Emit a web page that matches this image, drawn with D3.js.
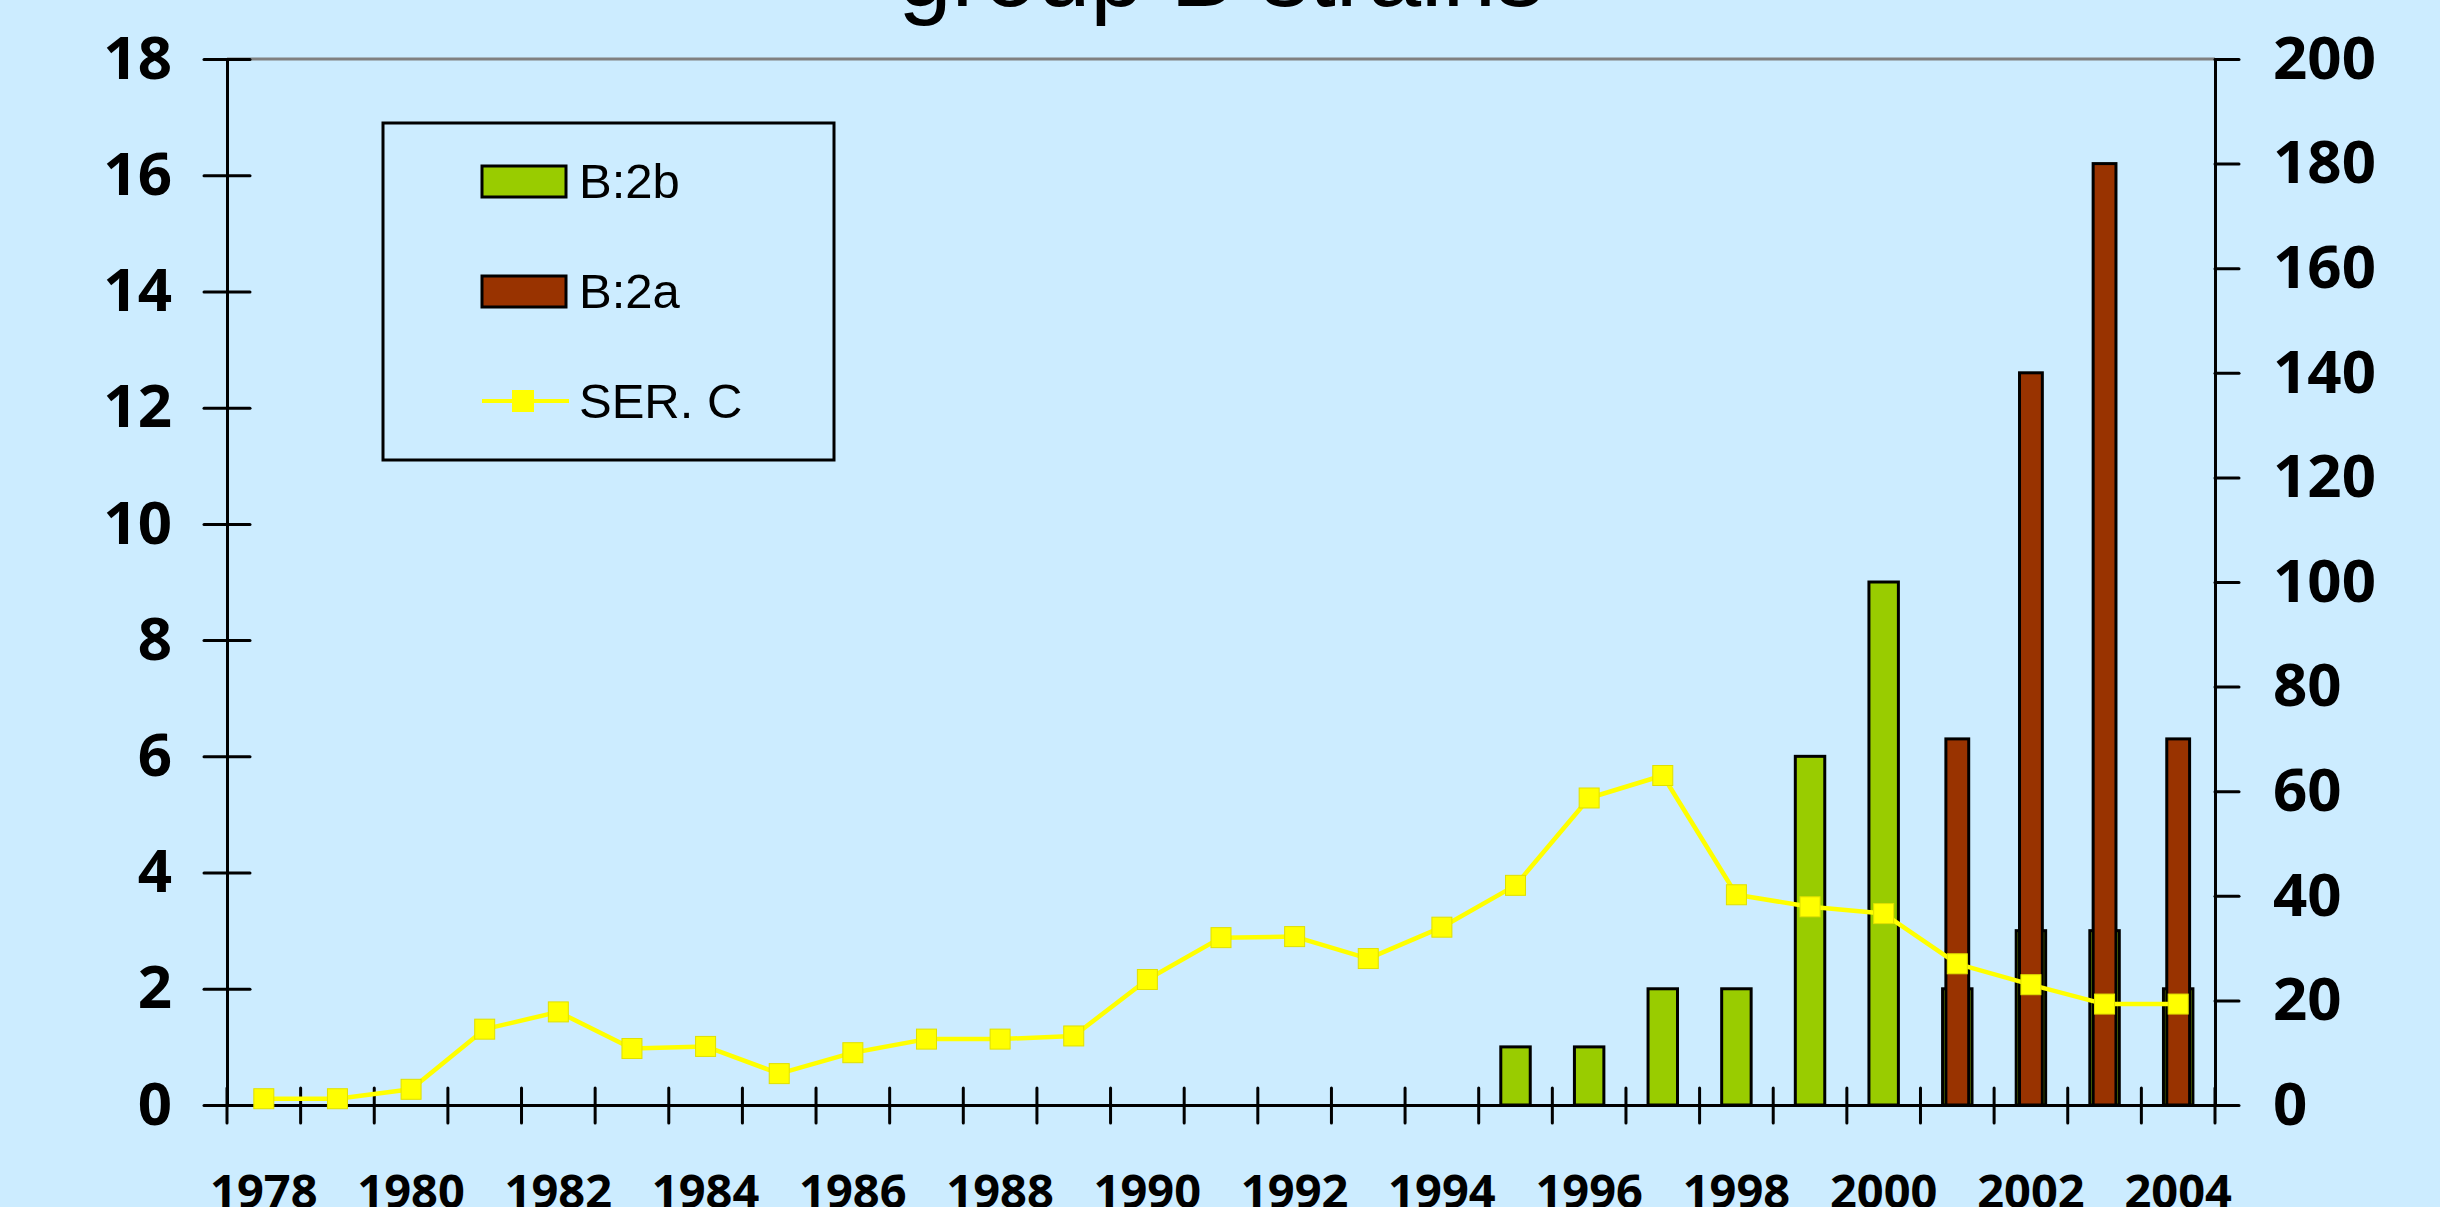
<!DOCTYPE html>
<html>
<head>
<meta charset="utf-8">
<script src="https://cdn.jsdelivr.net/npm/d3@7"></script>
<style>
    html, body { margin: 0; padding: 0; background: #CCECFF; overflow: hidden; }
</style>
</head>
<body>
<script>
// data
const years = [1978, 1979, 1980, 1981, 1982, 1983, 1984, 1985, 1986, 1987, 1988, 1989, 1990, 1991,
    1992, 1993, 1994, 1995, 1996, 1997, 1998, 1999, 2000, 2001, 2002, 2003, 2004];
// B:2b on the left axis
const b2b = [0, 0, 0, 0, 0, 0, 0, 0, 0, 0, 0, 0, 0, 0,
    0, 0, 0, 1, 1, 2, 2, 6, 9, 2, 3, 3, 2];
// B:2a on the right axis
const b2a = [0, 0, 0, 0, 0, 0, 0, 0, 0, 0, 0, 0, 0, 0,
    0, 0, 0, 0, 0, 0, 0, 0, 0, 70, 140, 180, 70];
// SER. C on the right axis
const serC = [1.2, 1.2, 3, 14.5, 17.8, 10.8, 11.2, 6, 10, 12.6, 12.6, 13.2, 24, 32,
    32.2, 28, 34, 42, 58.7, 63, 40.2, 37.9, 36.6, 27, 23, 19.3, 19.3];
const leftTicks = [0, 2, 4, 6, 8, 10, 12, 14, 16, 18];
const rightTicks = [0, 20, 40, 60, 80, 100, 120, 140, 160, 180, 200];
const yearLabels = [1978, 1980, 1982, 1984, 1986, 1988, 1990, 1992, 1994, 1996, 1998, 2000, 2002, 2004];
const seriesNames = ["B:2b", "B:2a", "SER. C"];
const seriesColors = ["#99CC00", "#993300", "#FFFF00"];
const titleText = "group B strains";

class GroupChart {
    constructor(width = 2440, height = 1207) {
        this.total_width = width;
        this.total_height = height;
        this.plot = { left: 227, right: 2215, top: 59, bottom: 1105 };
        this.svg = null;
        this.x = d3.scaleBand().domain(years).range([this.plot.left, this.plot.right]).padding(0);
        this.y_left = d3.scaleLinear().domain([0, 18]).range([this.plot.bottom, this.plot.top]);
        this.y_right = d3.scaleLinear().domain([0, 200]).range([this.plot.bottom, this.plot.top]);
    }

    construct_svg() {
        this.svg = d3.select("body").append("svg")
            .attr("width", this.total_width)
            .attr("height", this.total_height);
        this.svg.append("rect")
            .attr("width", this.total_width)
            .attr("height", this.total_height)
            .attr("fill", "#CCECFF");
        this.svg.append("text")
            .attr("x", 1221)
            .attr("y", 6)
            .attr("text-anchor", "middle")
            .style("font-family", "'Liberation Sans', Arial, sans-serif")
            .style("font-size", "96px")
            .text(titleText);
        // grey top border of the plot
        this.svg.append("line")
            .attr("x1", this.plot.left).attr("x2", this.plot.right)
            .attr("y1", this.plot.top).attr("y2", this.plot.top)
            .attr("stroke", "#808080").attr("stroke-width", 3);
    }

    construct_bars() {
        const self = this;
        const bw = this.x.bandwidth();
        const rows = years.map((yr, i) => ({ year: yr, b2b: b2b[i], b2a: b2a[i], c: serC[i] }));

        this.svg.append("g").attr("class", "b2b")
            .selectAll("rect")
            .data(rows.filter(d => d.b2b > 0))
            .enter().append("rect")
            .attr("x", d => self.x(d.year) + bw / 2 - bw * 0.2)
            .attr("width", bw * 0.4)
            .attr("y", d => self.y_left(d.b2b))
            .attr("height", d => self.y_left(0) - self.y_left(d.b2b))
            .attr("fill", seriesColors[0])
            .attr("stroke", "#000").attr("stroke-width", 3);

        this.svg.append("g").attr("class", "b2a")
            .selectAll("rect")
            .data(rows.filter(d => d.b2a > 0))
            .enter().append("rect")
            .attr("x", d => self.x(d.year) + bw / 2 - bw * 0.155)
            .attr("width", bw * 0.31)
            .attr("y", d => self.y_right(d.b2a))
            .attr("height", d => self.y_right(0) - self.y_right(d.b2a))
            .attr("fill", seriesColors[1])
            .attr("stroke", "#000").attr("stroke-width", 3);

        this.rows = rows;
    }

    construct_axes() {
        const font = "'Noto Sans', sans-serif";
        const left = this.svg.append("g")
            .attr("transform", "translate(" + this.plot.left + ",0)")
            .call(d3.axisLeft(this.y_left).tickValues(leftTicks).tickSizeInner(23).tickSizeOuter(0).tickPadding(32));
        left.selectAll(".tick line").attr("x1", 23);
        const right = this.svg.append("g")
            .attr("transform", "translate(" + this.plot.right + ",0)")
            .call(d3.axisRight(this.y_right).tickValues(rightTicks).tickSizeInner(24).tickSizeOuter(0).tickPadding(34));
        [left, right].forEach(ax => {
            ax.selectAll("path, line").attr("stroke", "#000").attr("stroke-width", 3).attr("stroke-linecap", "round");
            ax.selectAll("text").style("font-family", font).style("font-size", "60px")
                .style("font-weight", "bold").attr("fill", "#000");
        });

        const bottom = this.svg.append("g")
            .attr("transform", "translate(0," + this.plot.bottom + ")")
            .call(d3.axisBottom(this.x).tickValues(yearLabels).tickSize(0).tickPadding(70));
        bottom.select(".domain").attr("stroke", "#000").attr("stroke-width", 3);
        bottom.selectAll("text").style("font-family", font).style("font-size", "47px")
            .style("font-weight", "bold").attr("fill", "#000");

        // tick marks sit on the boundaries between years
        const edges = years.map(yr => this.x(yr)).concat([this.plot.right]);
        this.svg.append("g").selectAll("line")
            .data(edges)
            .enter().append("line")
            .attr("x1", d => d).attr("x2", d => d)
            .attr("y1", this.plot.bottom - 17).attr("y2", this.plot.bottom + 18)
            .attr("stroke", "#000").attr("stroke-width", 3).attr("stroke-linecap", "round");
    }

    construct_line() {
        const self = this;
        const bw = this.x.bandwidth();
        const line = d3.line()
            .x(d => self.x(d.year) + bw / 2)
            .y(d => self.y_right(d.c));
        this.svg.append("path")
            .datum(this.rows)
            .attr("d", line)
            .attr("fill", "none")
            .attr("stroke", seriesColors[2])
            .attr("stroke-width", 4.5)
            .attr("stroke-linejoin", "round");
        this.svg.append("g").selectAll("rect")
            .data(this.rows)
            .enter().append("rect")
            .attr("x", d => self.x(d.year) + bw / 2 - 10)
            .attr("y", d => self.y_right(d.c) - 10)
            .attr("width", 20).attr("height", 20)
            .attr("fill", seriesColors[2])
            .attr("stroke", "#E0E000").attr("stroke-width", 1);
    }

    construct_legend() {
        const g = this.svg.append("g").attr("class", "legend");
        g.append("rect")
            .attr("x", 383).attr("y", 123).attr("width", 451).attr("height", 337)
            .attr("fill", "none").attr("stroke", "#000").attr("stroke-width", 3);
        const items = g.selectAll(".item")
            .data(seriesNames)
            .enter().append("g")
            .attr("class", "item")
            .attr("transform", (d, i) => "translate(482," + (181 + i * 110) + ")");
        items.filter((d, i) => i < 2).append("rect")
            .attr("x", 0).attr("y", -15).attr("width", 84).attr("height", 31)
            .attr("fill", (d, i) => seriesColors[i])
            .attr("stroke", "#000").attr("stroke-width", 3);
        const lineItem = items.filter((d, i) => i === 2);
        lineItem.append("line")
            .attr("x1", 0).attr("x2", 87).attr("y1", 0).attr("y2", 0)
            .attr("stroke", seriesColors[2]).attr("stroke-width", 4);
        lineItem.append("rect")
            .attr("x", 30).attr("y", -11).attr("width", 22).attr("height", 22)
            .attr("fill", seriesColors[2]);
        items.append("text")
            .attr("x", 97).attr("y", 17)
            .style("font-family", "'Liberation Sans', Arial, sans-serif")
            .style("font-size", "49px")
            .attr("fill", "#000")
            .text(d => d);
    }

    draw() {
        this.construct_svg();
        this.construct_bars();
        this.construct_axes();
        this.construct_line();
        this.construct_legend();
    }
}

const chart = new GroupChart();
chart.draw();
</script>
</body>
</html>
